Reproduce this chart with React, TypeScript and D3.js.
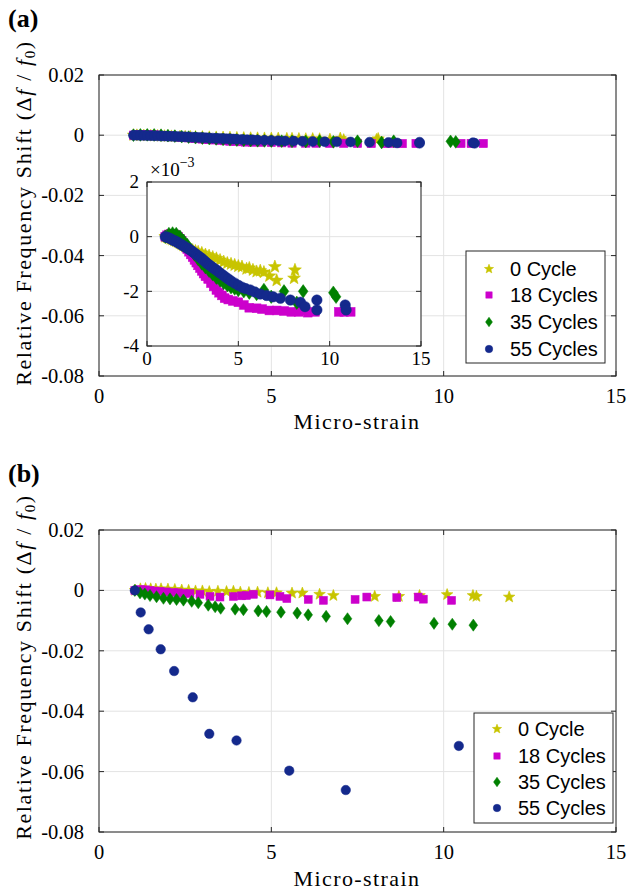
import React from 'react';
import * as d3 from 'd3';

// ---------- legend / series ----------
const SERIES_NAMES = ['0 Cycle', '18 Cycles', '35 Cycles', '55 Cycles'];
const SERIES_COLORS = ['#c8c400', '#cc00cc', '#008000', '#14298c'];
const SERIES_SHAPES = ['star', 'square', 'diamond', 'circle'];

// ---------- axes ----------
const X_TICKS = [0, 5, 10, 15];
const Y_TICKS = [20, 0, -20, -40, -60, -80]; // in units of 1e-3
const Y_TICK_LABELS = ['0.02', '0', '-0.02', '-0.04', '-0.06', '-0.08'];
const INSET_X_TICKS = [0, 5, 10, 15];
const INSET_Y_TICKS = [2, 0, -2, -4];

// ---------- panel (a) data: x = micro-strain, y = relative shift ×1e-3 ----------
const A0_X = [1.0, 1.1, 1.2, 1.3, 1.4, 1.5, 1.6, 1.7, 1.8, 1.9, 2.0, 2.1, 2.2, 2.35, 2.5, 2.65, 2.8, 3.0, 3.2, 3.4, 3.6, 3.8, 4.0, 4.2, 4.4, 4.6, 4.8, 5.0, 5.2, 5.45, 5.6, 5.8, 6.0, 6.2, 6.4, 6.7, 7.0, 7.1, 8.05, 8.1];
const A0_Y = [0, -0.02, -0.05, -0.08, -0.11, -0.14, -0.17, -0.2, -0.24, -0.28, -0.32, -0.36, -0.4, -0.45, -0.5, -0.53, -0.56, -0.6, -0.66, -0.7, -0.75, -0.8, -0.86, -0.92, -0.97, -1.0, -1.04, -1.08, -1.1, -1.18, -1.15, -1.22, -1.28, -1.25, -1.3, -1.44, -1.1, -1.6, -1.52, -1.22];

const A1_X = [1.0, 1.1, 1.2, 1.3, 1.4, 1.5, 1.6, 1.7, 1.8, 1.9, 2.0, 2.1, 2.2, 2.3, 2.4, 2.5, 2.6, 2.7, 2.8, 2.9, 3.0, 3.1, 3.2, 3.35, 3.5, 3.65, 3.8, 3.95, 4.1, 4.25, 4.45, 4.7, 5.0, 5.3, 5.6, 6.0, 6.3, 6.7, 7.1, 7.5, 7.9, 8.3, 8.5, 8.8, 9.2, 10.5, 10.8, 11.15];
const A1_Y = [0, 0.05, 0.08, 0.1, 0.1, 0.08, 0.05, 0.0, -0.08, -0.15, -0.25, -0.35, -0.45, -0.55, -0.65, -0.75, -0.85, -0.95, -1.05, -1.15, -1.25, -1.35, -1.45, -1.55, -1.7, -1.82, -1.95, -2.05, -2.15, -2.25, -2.3, -2.35, -2.4, -2.5, -2.6, -2.62, -2.65, -2.7, -2.7, -2.72, -2.75, -2.75, -2.7, -2.78, -2.75, -2.75, -2.75, -2.75];

const A2_X = [1.0, 1.2, 1.4, 1.6, 1.8, 2.0, 2.2, 2.4, 2.6, 2.8, 3.0, 3.2, 3.4, 3.6, 3.8, 4.0, 4.2, 4.4, 4.6, 4.8, 5.0, 5.3, 5.6, 6.0, 6.4, 6.8, 7.5, 8.2, 8.55, 10.2, 10.35];
const A2_Y = [0, 0.1, 0.12, 0.1, 0.0, -0.15, -0.3, -0.48, -0.65, -0.82, -0.98, -1.12, -1.25, -1.38, -1.5, -1.6, -1.7, -1.78, -1.85, -1.9, -1.95, -2.0, -2.05, -2.1, -1.95, -2.2, -2.0, -2.42, -2.0, -2.05, -2.2];

const A3_X = [1.0, 1.1, 1.2, 1.3, 1.4, 1.5, 1.6, 1.7, 1.8, 1.9, 2.0, 2.1, 2.2, 2.3, 2.4, 2.5, 2.6, 2.7, 2.8, 2.9, 3.0, 3.1, 3.2, 3.3, 3.4, 3.5, 3.6, 3.7, 3.8, 3.9, 4.0, 4.15, 4.3, 4.45, 4.6, 4.8, 5.0, 5.2, 5.4, 5.65, 5.9, 6.2, 6.55, 6.9, 7.3, 7.85, 8.4, 8.65, 9.3, 9.3, 10.85, 10.9];
const A3_Y = [0, -0.02, -0.05, -0.08, -0.12, -0.15, -0.18, -0.22, -0.26, -0.3, -0.34, -0.38, -0.42, -0.46, -0.5, -0.55, -0.6, -0.65, -0.7, -0.75, -0.8, -0.86, -0.92, -0.98, -1.03, -1.08, -1.13, -1.18, -1.22, -1.28, -1.33, -1.4, -1.48, -1.55, -1.62, -1.7, -1.78, -1.85, -1.9, -1.95, -2.02, -2.1, -2.15, -2.2, -2.25, -2.32, -2.4, -2.56, -2.32, -2.68, -2.5, -2.68];

// ---------- panel (b) data ----------
const B0_X = [1.05, 1.2, 1.35, 1.5, 1.65, 1.8, 2.0, 2.2, 2.4, 2.6, 2.8, 3.0, 3.2, 3.45, 3.7, 3.9, 4.1, 4.35, 4.6, 4.9, 5.15, 5.6, 5.9, 6.4, 6.8, 8.0, 8.7, 9.3, 10.1, 10.85, 10.95, 11.9];
const B0_Y = [0, 0.5, 0.6, 0.5, 0.4, 0.5, 0.4, 0.3, 0.1, 0.0, -0.2, -0.2, -0.4, -0.3, -0.4, -0.3, -0.6, -0.7, -0.6, -0.8, -0.8, -0.9, -0.9, -1.3, -1.7, -2.0, -2.0, -1.7, -1.4, -1.7, -2.0, -2.2];

const B1_X = [1.04, 1.2, 1.35, 1.48, 1.62, 1.77, 1.95, 2.16, 2.3, 2.45, 2.64, 2.93, 3.22, 3.51, 3.9, 4.14, 4.28, 4.48, 4.96, 5.25, 5.45, 6.07, 6.51, 7.43, 7.77, 8.64, 9.26, 9.41, 10.23];
const B1_Y = [0, 0.3, 0.2, 0.0, -0.2, -0.3, -0.5, -0.7, -0.8, -1.0, -1.0, -1.3, -2.0, -2.2, -2.0, -1.8, -1.7, -1.3, -1.5, -2.0, -2.7, -3.0, -3.3, -3.0, -2.2, -2.4, -2.2, -2.9, -3.3];

const B2_X = [1.04, 1.19, 1.33, 1.48, 1.67, 1.87, 2.06, 2.25, 2.45, 2.69, 2.88, 3.17, 3.37, 3.53, 3.95, 4.19, 4.62, 4.86, 5.28, 5.75, 6.07, 6.59, 7.21, 8.12, 8.46, 9.72, 10.25, 10.86];
const B2_Y = [0, -0.8, -1.2, -1.7, -2.1, -2.6, -2.8, -3.0, -3.2, -3.6, -4.1, -4.9, -5.4, -5.9, -6.2, -6.4, -6.8, -7.0, -7.2, -7.5, -8.1, -8.6, -9.4, -10.0, -10.3, -10.9, -11.2, -11.5];

const B3_X = [1.04, 1.21, 1.44, 1.79, 2.18, 2.72, 3.2, 3.99, 5.52, 7.16, 10.44];
const B3_Y = [0, -7.3, -12.9, -19.5, -26.7, -35.4, -47.5, -49.7, -59.7, -66.1, -51.5];

const PANEL_A = [
  { x: A0_X, y: A0_Y },
  { x: A1_X, y: A1_Y },
  { x: A2_X, y: A2_Y },
  { x: A3_X, y: A3_Y },
];
const PANEL_B = [
  { x: B0_X, y: B0_Y },
  { x: B1_X, y: B1_Y },
  { x: B2_X, y: B2_Y },
  { x: B3_X, y: B3_Y },
];

const SERIF = "'Liberation Serif', 'Times New Roman', serif";
const SANS = "'Liberation Sans', Arial, sans-serif";
const AXIS = '#262626';
const GRID = '#e3e3e3';

function starPath(r: number) {
  const pts: string[] = [];
  for (let i = 0; i < 10; i++) {
    const a = -Math.PI / 2 + (i * Math.PI) / 5;
    const rr = i % 2 === 0 ? r : r * 0.42;
    pts.push(`${(rr * Math.cos(a)).toFixed(2)},${(rr * Math.sin(a)).toFixed(2)}`);
  }
  return 'M' + pts.join('L') + 'Z';
}

function Marker({ shape, cx, cy, color, k = 1 }: { shape: string; cx: number; cy: number; color: string; k?: number }) {
  if (shape === 'star') {
    return <path d={starPath(6.4 * k)} transform={`translate(${cx},${cy})`} fill={color} stroke={color} strokeWidth={0.6} />;
  }
  if (shape === 'square') {
    const s = 8.4 * k;
    return <rect x={cx - s / 2} y={cy - s / 2} width={s} height={s} fill={color} stroke={color} strokeWidth={0.5} />;
  }
  if (shape === 'diamond') {
    const w = 4.6 * k, h = 6.4 * k;
    return <path d={`M${cx},${cy - h}L${cx + w},${cy}L${cx},${cy + h}L${cx - w},${cy}Z`} fill={color} stroke={color} strokeWidth={0.5} />;
  }
  return <circle cx={cx} cy={cy} r={5 * k} fill={color} stroke={color} strokeWidth={0.5} />;
}

function Grid({ x, y, xTicks, yTicks, bg }: any) {
  const [x0, x1] = x.range();
  const [y0, y1] = y.range();
  return (
    <g>
      {bg && <rect x={x0} y={y1} width={x1 - x0} height={y0 - y1} fill="#fff" />}
      {xTicks.map((t: number, i: number) => (
        <line key={'gx' + i} x1={x(t)} x2={x(t)} y1={y1} y2={y0} stroke={GRID} strokeWidth={1} />
      ))}
      {yTicks.map((t: number, i: number) => (
        <line key={'gy' + i} x1={x0} x2={x1} y1={y(t)} y2={y(t)} stroke={GRID} strokeWidth={1} />
      ))}
    </g>
  );
}

function AxesFrame({ x, y, xTicks, yTicks, xLabels, yLabels, fontSize, labelGapY, labelGapX }: any) {
  const [x0, x1] = x.range();
  const [y0, y1] = y.range();
  const tl = 5;
  return (
    <g>
      <rect x={x0} y={y1} width={x1 - x0} height={y0 - y1} fill="none" stroke={AXIS} strokeWidth={1} />
      {xTicks.map((t: number, i: number) => (
        <g key={'tx' + i}>
          <line x1={x(t)} x2={x(t)} y1={y0} y2={y0 - tl} stroke={AXIS} />
          <line x1={x(t)} x2={x(t)} y1={y1} y2={y1 + tl} stroke={AXIS} />
          <text x={x(t)} y={y0 + labelGapX} textAnchor="middle" fontFamily={SERIF} fontSize={fontSize} fill="#000">{xLabels[i]}</text>
        </g>
      ))}
      {yTicks.map((t: number, i: number) => (
        <g key={'ty' + i}>
          <line x1={x0} x2={x0 + tl} y1={y(t)} y2={y(t)} stroke={AXIS} />
          <line x1={x1} x2={x1 - tl} y1={y(t)} y2={y(t)} stroke={AXIS} />
          <text x={x0 - labelGapY} y={y(t)} dy="0.34em" textAnchor="end" fontFamily={SERIF} fontSize={fontSize} fill="#000">{yLabels[i]}</text>
        </g>
      ))}
    </g>
  );
}

function Points({ data, x, y, k }: any) {
  return (
    <g>
      {data.map((s: any, si: number) =>
        s.x.map((xv: number, i: number) => (
          <Marker key={si + '-' + i} shape={SERIES_SHAPES[si]} cx={x(xv)} cy={y(s.y[i])} color={SERIES_COLORS[si]} k={k} />
        ))
      )}
    </g>
  );
}

function Legend({ left, top, width, height, rowY }: any) {
  return (
    <g>
      <rect x={left} y={top} width={width} height={height} fill="#fff" stroke={AXIS} strokeWidth={1} />
      {SERIES_NAMES.map((n, i) => (
        <g key={n}>
          <Marker shape={SERIES_SHAPES[i]} cx={left + 23} cy={rowY[i]} color={SERIES_COLORS[i]} k={0.75} />
          <text x={left + 44} y={rowY[i]} dy="0.36em" fontFamily={SANS} fontSize={20} fill="#000">{n}</text>
        </g>
      ))}
    </g>
  );
}

function YLabel({ cx, cy }: { cx: number; cy: number }) {
  return (
    <text transform={`translate(${cx},${cy}) rotate(-90)`} textAnchor="middle" fontFamily={SERIF} fontSize={22} letterSpacing={1.6} fill="#000">
      Relative Frequency Shift (Δ<tspan fontStyle="italic">f</tspan> / <tspan fontStyle="italic">f</tspan>
      <tspan fontSize={15} dy={4}>0</tspan>
      <tspan dy={-4}>)</tspan>
    </text>
  );
}

export default function App() {
  const W = 629, H = 894;
  // panel (a)
  const xa = d3.scaleLinear().domain([0, 15]).range([99, 616]);
  const ya = d3.scaleLinear().domain([-80, 20]).range([376, 75]);
  const xi = d3.scaleLinear().domain([0, 15]).range([147, 421]);
  const yi = d3.scaleLinear().domain([-4, 2]).range([346, 182]);
  // panel (b)
  const xb = d3.scaleLinear().domain([0, 15]).range([99, 616]);
  const yb = d3.scaleLinear().domain([-80, 20]).range([832, 530]);

  const xl = X_TICKS.map(String);
  const ixl = INSET_X_TICKS.map(String);
  const iyl = INSET_Y_TICKS.map(String);

  return (
    <svg width={W} height={H} viewBox={`0 0 ${W} ${H}`} style={{ display: 'block', position: 'absolute', left: 0, top: 0, background: '#fff' }}>
      <rect width={W} height={H} fill="#fff" />

      {/* ===== panel (a) ===== */}
      <text x={8} y={27} fontFamily={SERIF} fontWeight="bold" fontSize={26} fill="#000">(a)</text>
      <Grid x={xa} y={ya} xTicks={X_TICKS} yTicks={Y_TICKS} />
      <Points data={PANEL_A} x={xa} y={ya} k={1} />
      <AxesFrame x={xa} y={ya} xTicks={X_TICKS} yTicks={Y_TICKS} xLabels={xl} yLabels={Y_TICK_LABELS} fontSize={20.5} labelGapY={15} labelGapX={27} />
      <YLabel cx={31} cy={213} />
      <text x={357} y={429} textAnchor="middle" fontFamily={SERIF} fontSize={22} letterSpacing={1.4} fill="#000">Micro-strain</text>

      {/* inset */}
      <Grid x={xi} y={yi} xTicks={INSET_X_TICKS} yTicks={INSET_Y_TICKS} bg={true} />
      <Points data={PANEL_A} x={xi} y={yi} k={1.05} />
      <AxesFrame x={xi} y={yi} xTicks={INSET_X_TICKS} yTicks={INSET_Y_TICKS} xLabels={ixl} yLabels={iyl} fontSize={19} labelGapY={8} labelGapX={19} />
      <text x={150} y={176} fontFamily={SERIF} fontSize={19} fill="#000">×10<tspan fontSize={14} dy={-9}>−3</tspan></text>

      <Legend left={466} top={251} width={139} height={112} rowY={[269, 295, 322, 349]} />

      {/* ===== panel (b) ===== */}
      <text x={8} y={482} fontFamily={SERIF} fontWeight="bold" fontSize={26} fill="#000">(b)</text>
      <Grid x={xb} y={yb} xTicks={X_TICKS} yTicks={Y_TICKS} />
      <Points data={PANEL_B} x={xb} y={yb} k={0.95} />
      <AxesFrame x={xb} y={yb} xTicks={X_TICKS} yTicks={Y_TICKS} xLabels={xl} yLabels={Y_TICK_LABELS} fontSize={20.5} labelGapY={15} labelGapX={27} />
      <YLabel cx={31} cy={667} />
      <text x={357} y={886} textAnchor="middle" fontFamily={SERIF} fontSize={22} letterSpacing={1.4} fill="#000">Micro-strain</text>

      <Legend left={474} top={713} width={139} height={110} rowY={[729, 756, 782, 808]} />
    </svg>
  );
}
